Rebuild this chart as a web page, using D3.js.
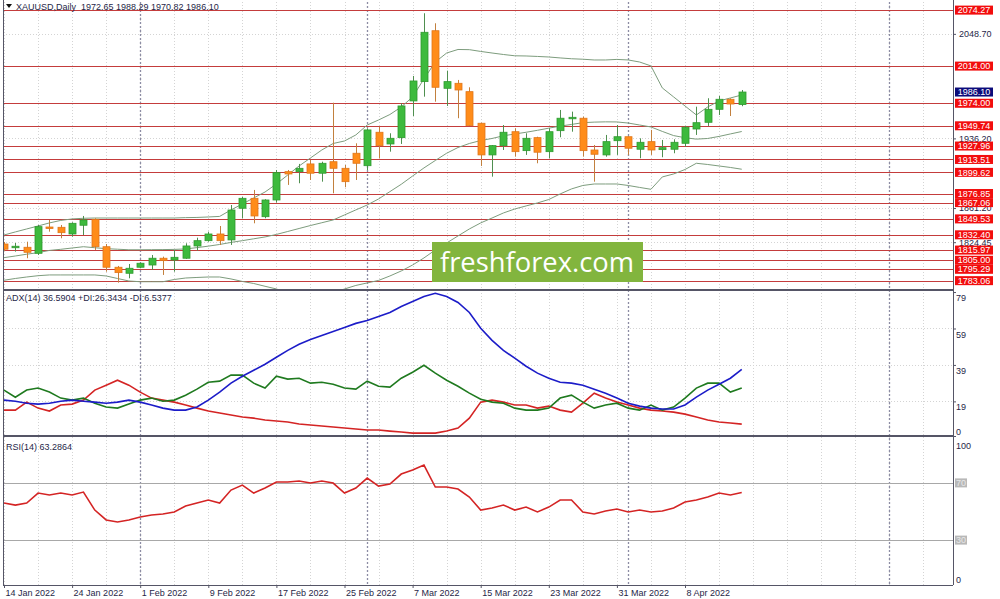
<!DOCTYPE html>
<html><head><meta charset="utf-8">
<script src="https://cdn.jsdelivr.net/npm/d3@7"></script>
<style>body{margin:0;background:#fff}svg{display:block}text{font-family:"Liberation Sans",Arial,sans-serif}</style>
</head><body><svg id="c" width="1000" height="599"></svg>
<script>
// ---------- DATA ----------
const tickIdx = [0,6,12,18,24,30,36,42,48,54,60];
const tickLabels = ["14 Jan 2022","24 Jan 2022","1 Feb 2022","9 Feb 2022","17 Feb 2022","25 Feb 2022","7 Mar 2022","15 Mar 2022","23 Mar 2022","31 Mar 2022","8 Apr 2022"];
const separatorIdx = [12,32,55,78];
const open = [1822.5,1819.3,1819.0,1812.5,1840.8,1840.5,1833.3,1842.7,1849.1,1819.6,1797.5,1791.0,1797.5,1799.9,1807.2,1805.3,1807.2,1820.4,1826.1,1833.3,1826.9,1861.0,1871.7,1851.9,1869.9,1900.4,1900.4,1908.7,1898.7,1911.1,1904.0,1920.2,1906.8,1942.8,1930.2,1937.0,1976.5,1997.3,2052.1,1990.1,1995.5,1986.5,1952.5,1918.4,1928.4,1943.4,1923.0,1937.0,1921.9,1944.5,1957.4,1957.9,1923.7,1918.4,1933.7,1938.0,1924.5,1932.7,1924.1,1924.5,1930.9,1946.3,1953.5,1967.5,1978.3,1972.65];
const high = [1824.7,1823.6,1825.0,1843.0,1848.4,1843.0,1845.9,1852.7,1850.2,1822.5,1798.9,1801.0,1802.4,1810.7,1808.9,1816.1,1823.3,1829.3,1835.8,1841.9,1864.5,1873.5,1880.7,1870.7,1902.2,1902.2,1908.7,1913.0,1911.1,1974.6,1907.6,1930.9,1947.1,1948.8,1941.7,1974.0,2003.4,2070.9,2060.1,2009.1,1999.1,1991.2,1953.1,1929.0,1950.6,1947.1,1941.7,1938.0,1947.1,1966.8,1965.0,1959.6,1929.1,1939.9,1950.6,1938.5,1936.3,1945.3,1934.5,1935.2,1949.6,1970.3,1979.4,1981.9,1979.4,1988.29];
const low = [1815.0,1814.3,1807.2,1810.7,1835.8,1828.7,1830.4,1832.2,1816.1,1792.7,1780.9,1785.6,1796.4,1794.6,1789.2,1792.7,1806.5,1815.3,1825.0,1821.5,1821.5,1850.2,1844.8,1850.2,1867.0,1886.1,1887.9,1891.4,1889.6,1877.1,1883.6,1891.4,1902.2,1914.8,1921.9,1930.2,1960.3,1981.1,1975.7,1971.1,1957.9,1949.6,1906.5,1895.0,1923.7,1916.5,1918.4,1909.4,1914.8,1937.4,1943.4,1916.5,1889.6,1916.5,1918.4,1918.4,1914.8,1918.4,1915.9,1920.2,1927.3,1939.9,1949.6,1961.4,1960.3,1970.82];
const close = [1816.9,1820.1,1813.6,1841.2,1839.4,1834.7,1844.8,1848.4,1819.6,1797.5,1791.7,1796.4,1801.8,1807.2,1804.6,1808.2,1820.4,1826.1,1833.3,1826.1,1859.1,1871.7,1852.7,1869.9,1899.3,1897.9,1904.0,1898.7,1909.4,1904.0,1889.6,1909.4,1945.3,1928.4,1936.3,1971.1,1998.0,2050.4,1991.2,1997.3,1988.3,1949.9,1918.4,1928.4,1942.8,1921.9,1936.3,1921.3,1943.4,1957.9,1958.9,1923.0,1919.1,1932.7,1938.0,1925.6,1932.0,1923.7,1926.2,1932.0,1948.2,1953.1,1967.5,1978.3,1973.2,1986.10];
const bbUpper = [1832.2,1835.5,1838.7,1841.9,1845.2,1847.9,1849.5,1850.2,1850.5,1850.5,1850.5,1850.5,1850.5,1850.5,1850.5,1850.5,1850.9,1851.1,1851.6,1852.2,1859.2,1865.6,1872.1,1878.5,1887.1,1896.8,1906.5,1915.1,1923.7,1930.7,1933.4,1939.9,1950.6,1956.0,1961.9,1970.0,1980.8,2000.2,2018.4,2028.1,2031.9,2031.7,2029.8,2028.1,2026.5,2025.1,2024.9,2024.4,2023.8,2022.8,2021.9,2021.4,2020.6,2020.6,2021.2,2020.6,2018.4,2014.2,1990.5,1980.8,1971.1,1961.4,1970.0,1976.5,1979.7,1982.9];
const bbMiddle = [1807.8,1809.6,1811.5,1813.2,1815.6,1816.8,1818.2,1819.6,1818.5,1817.5,1816.9,1816.3,1816.3,1816.4,1816.5,1816.7,1817.2,1818.6,1820.2,1822.0,1824.2,1826.1,1828.1,1830.1,1832.8,1836.0,1839.2,1842.4,1845.4,1848.4,1853.8,1859.2,1864.5,1871.0,1878.9,1886.8,1895.7,1904.4,1912.4,1920.2,1926.4,1930.7,1933.9,1936.1,1939.0,1940.9,1942.8,1944.9,1947.2,1949.4,1951.2,1953.1,1953.7,1954.0,1953.9,1952.7,1950.6,1948.5,1943.7,1939.2,1936.9,1935.4,1936.1,1938.3,1941.0,1943.6];
const bbLower = [1783.5,1785.4,1787.0,1788.4,1789.2,1789.2,1789.2,1789.2,1789.2,1788.1,1785.4,1782.7,1781.9,1781.9,1781.9,1784.3,1785.9,1786.5,1787.0,1787.0,1784.9,1782.2,1780.0,1777.0,1774.1,1769.8,1766.6,1765.5,1766.6,1769.8,1774.1,1777.9,1780.6,1783.3,1788.1,1793.5,1799.9,1807.5,1816.1,1823.6,1831.2,1838.7,1845.2,1850.5,1855.9,1860.2,1863.5,1866.7,1870.4,1876.4,1881.8,1885.5,1887.1,1887.1,1887.1,1885.5,1883.4,1881.4,1894.7,1897.9,1902.7,1909.4,1908.1,1906.5,1904.9,1903.0];
const levels = [2074.27,2014.00,1974.00,1949.74,1927.96,1913.51,1899.62,1876.85,1867.06,1849.53,1832.40,1815.97,1805.00,1795.29,1783.06];
const priceGrid = [2048.70,1936.20,1861.20,1824.45];
const lastPrice = 1986.10;
const adx = [19.7,19.1,18.0,17.5,18.0,19.1,19.7,19.1,18.6,18.0,18.6,19.7,18.6,17.0,15.3,14.2,14.2,15.9,19.7,24.1,29.0,32.8,36.1,39.4,43.2,47.0,50.3,53.0,55.2,57.4,59.6,61.8,63.4,65.6,67.8,71.1,73.8,76.6,78.3,76.6,73.3,67.8,59.1,52.5,47.0,42.7,38.3,34.5,31.7,29.5,29.0,27.9,25.7,23.5,20.8,18.0,16.4,15.3,14.8,14.8,17.0,21.3,25.2,28.4,31.7,36.6];
const plusDI = [25.2,21.3,25.2,26.3,24.1,20.8,19.7,20.8,18.0,15.9,15.3,17.5,19.7,20.8,19.1,19.7,22.4,25.7,29.5,30.1,33.4,33.4,29.0,26.3,32.8,31.2,31.7,29.0,29.5,28.4,26.3,25.7,30.1,27.3,26.8,31.7,35.0,38.8,34.5,30.6,27.3,23.5,20.2,18.6,18.0,15.3,14.2,14.2,15.3,20.8,22.4,18.6,15.3,17.0,18.0,15.3,14.2,17.0,14.2,15.9,20.8,26.3,29.0,29.0,24.1,26.3];
const minusDI = [14.2,14.2,18.6,15.3,13.7,17.0,17.5,19.7,25.2,27.9,30.6,27.9,24.1,20.8,19.7,18.6,17.0,15.3,13.7,12.6,11.5,10.4,9.8,8.8,8.2,7.7,6.6,6.0,5.5,4.9,4.4,3.8,3.3,3.3,2.7,2.2,1.6,1.6,1.6,2.7,4.4,9.8,18.6,19.7,18.6,17.0,17.0,15.3,16.4,14.2,13.1,18.0,23.5,20.8,18.6,17.0,15.3,14.2,13.7,13.1,12.0,10.4,8.8,7.7,7.1,6.5];
const rsi = [55.9,54.5,55.9,62.9,61.5,62.9,61.5,63.6,51.0,44.1,42.7,44.1,46.2,47.6,48.3,49.7,53.8,55.9,58.0,55.9,65.0,68.5,62.9,66.4,70.6,70.6,71.3,69.9,71.3,69.9,62.9,66.4,73.4,67.8,69.2,76.2,79.0,82.5,67.1,67.1,65.7,60.1,51.0,52.4,54.5,51.0,53.1,49.7,53.1,58.0,58.0,49.7,48.3,50.3,51.7,49.7,51.0,49.7,50.3,52.4,56.6,58.0,60.1,62.9,61.5,63.3];
const adxTicks = [79,59,39,19,0];
const rsiLevels = [70,30];
const rsiTicks = [100,0];

// ---------- LAYOUT ----------
const svg = d3.select("#c");
const L = 3, R = 953;
const mainT = 2, mainB = 290, adxT = 291, adxB = 436, rsiT = 437, rsiB = 585;
const x = d3.scaleLinear().domain([0,65]).range([4, 4+11.35*65]);
const y = d3.scaleLinear().domain([1773, 2083]).range([mainB, mainT]);
const yA = d3.scaleLinear().domain([0, 79.3]).range([adxB, adxT+0.5]);
const yR = d3.scaleLinear().domain([0, 100]).range([583, 440]);
const txtCol = "#1f1f48";

const defs = svg.append("defs");
[["cm",mainT,mainB],["ca",adxT,adxB],["cr",rsiT,rsiB]].forEach(([id,t,b])=>{
  defs.append("clipPath").attr("id",id).append("rect").attr("x",L).attr("y",t).attr("width",R-L).attr("height",b-t);
});

// vertical grid
const gridIdx = d3.range(0, 84, 3);
svg.append("g").selectAll("line").data(gridIdx).join("line")
  .attr("x1",d=>Math.round(x(d))+0.5).attr("x2",d=>Math.round(x(d))+0.5)
  .attr("y1",mainT).attr("y2",rsiB).attr("stroke","#d4d4d4").attr("stroke-dasharray","1,2");
// horizontal grids
svg.append("g").selectAll("line").data(priceGrid).join("line")
  .attr("x1",L).attr("x2",R).attr("y1",d=>Math.round(y(d))+0.5).attr("y2",d=>Math.round(y(d))+0.5)
  .attr("stroke","#d4d4d4").attr("stroke-dasharray","1,2");
svg.append("g").selectAll("line").data([59,39,19]).join("line")
  .attr("x1",L).attr("x2",R).attr("y1",d=>Math.round(yA(d))+0.5).attr("y2",d=>Math.round(yA(d))+0.5)
  .attr("stroke","#d4d4d4").attr("stroke-dasharray","1,2");
// period separators
svg.append("g").selectAll("line").data(separatorIdx).join("line")
  .attr("x1",d=>Math.round(x(d))+0.5).attr("x2",d=>Math.round(x(d))+0.5)
  .attr("y1",mainT).attr("y2",rsiB).attr("stroke","#8c8ca4").attr("stroke-width",1.3).attr("stroke-dasharray","2,2");

// ---------- MAIN PANEL ----------
const gm = svg.append("g").attr("clip-path","url(#cm)");
gm.selectAll("line.lvl").data(levels).join("line").attr("class","lvl")
  .attr("x1",L).attr("x2",R).attr("y1",d=>Math.round(y(d))+0.5).attr("y2",d=>Math.round(y(d))+0.5)
  .attr("stroke","#c43c3c").attr("stroke-width",1);
const lineGen = sc => d3.line().x((d,i)=>x(i)).y(d=>sc(d));
[bbUpper,bbMiddle,bbLower].forEach(s=>{
  gm.append("path").datum(s).attr("d",lineGen(y)).attr("fill","none").attr("stroke","#7d9c7d").attr("stroke-width",1);
});
const idx = d3.range(open.length);
const bull = i => close[i] >= open[i];
gm.selectAll("line.wick").data(idx).join("line").attr("class","wick")
  .attr("x1",i=>Math.round(x(i))+0.5).attr("x2",i=>Math.round(x(i))+0.5)
  .attr("y1",i=>y(high[i])).attr("y2",i=>y(low[i]))
  .attr("stroke",i=>bull(i)?"#4f8f4f":"#c2803e").attr("stroke-width",1);
gm.selectAll("rect.body").data(idx).join("rect").attr("class","body")
  .attr("x",i=>Math.round(x(i))-3).attr("width",7)
  .attr("y",i=>y(Math.max(open[i],close[i])))
  .attr("height",i=>Math.max(1.5, Math.abs(y(open[i])-y(close[i]))))
  .attr("fill",i=>bull(i)?"#3dba3d":"#ff8c1a")
  .attr("stroke",i=>bull(i)?"#2f9a2f":"#e0761a").attr("stroke-width",0.8);

// logo
svg.append("rect").attr("x",432).attr("y",242).attr("width",211).attr("height",40).attr("fill","#82b53e");
svg.append("text").attr("x",440).attr("y",272).attr("fill","#fff").attr("font-size",28)
  .attr("textLength",194).attr("lengthAdjust","spacingAndGlyphs")
  .style("font-family","'Open Sans','Noto Sans',sans-serif").text("freshforex.com");

// ---------- ADX PANEL ----------
const ga = svg.append("g").attr("clip-path","url(#ca)");
[[minusDI,"#d42424"],[plusDI,"#1f7a1f"],[adx,"#1c1cc8"]].forEach(([s,c])=>{
  ga.append("path").datum(s).attr("d",lineGen(yA)).attr("fill","none").attr("stroke",c).attr("stroke-width",1.6);
});

// ---------- RSI PANEL ----------
const gr = svg.append("g").attr("clip-path","url(#cr)");
gr.selectAll("line.lv").data(rsiLevels).join("line").attr("class","lv")
  .attr("x1",L).attr("x2",R).attr("y1",d=>Math.round(yR(d))+0.5).attr("y2",d=>Math.round(yR(d))+0.5)
  .attr("stroke","#a8a8a8");
gr.append("path").datum(rsi).attr("d",lineGen(yR)).attr("fill","none").attr("stroke","#d42424").attr("stroke-width",1.6);

// ---------- FRAMES ----------
const frame = svg.append("g").attr("stroke","#555566").attr("shape-rendering","crispEdges");
frame.append("line").attr("x1",L).attr("x2",L).attr("y1",0).attr("y2",rsiB);
frame.append("line").attr("x1",R).attr("x2",R).attr("y1",0).attr("y2",rsiB);
frame.append("line").attr("x1",L).attr("x2",R).attr("y1",mainB).attr("y2",mainB).attr("stroke-width",2);
frame.append("line").attr("x1",L).attr("x2",R).attr("y1",adxB).attr("y2",adxB).attr("stroke-width",2);
frame.append("line").attr("x1",L).attr("x2",R).attr("y1",rsiB).attr("y2",rsiB);

// ---------- AXES ----------
const pAxis = svg.append("g").attr("transform",`translate(${R},0)`)
  .call(d3.axisRight(y).tickValues(priceGrid).tickSize(3).tickFormat(d3.format(".2f")));
pAxis.select(".domain").remove();
pAxis.selectAll("line").attr("stroke","#555566");
pAxis.selectAll("text").attr("fill",txtCol).attr("font-size",9).attr("x",6).style("font-family","'Liberation Sans',Arial");

// level labels
const lab = svg.append("g");
levels.forEach(v=>{
  lab.append("rect").attr("x",R+2).attr("y",y(v)-4.5).attr("width",38).attr("height",9).attr("fill","#f20d0d");
  lab.append("text").attr("x",R+21).attr("y",y(v)).attr("dy","0.35em").attr("text-anchor","middle")
    .attr("fill","#fff").attr("font-size",9).text(v.toFixed(2));
});
lab.append("rect").attr("x",R+2).attr("y",y(lastPrice)-4.5).attr("width",38).attr("height",9).attr("fill","#0b0b7a");
lab.append("text").attr("x",R+21).attr("y",y(lastPrice)).attr("dy","0.35em").attr("text-anchor","middle")
  .attr("fill","#fff").attr("font-size",9).text(lastPrice.toFixed(2));

// ADX axis
const aAxis = svg.append("g").attr("transform",`translate(${R},0)`)
  .call(d3.axisRight(yA).tickValues(adxTicks).tickSize(3).tickFormat(d3.format("d")));
aAxis.select(".domain").remove();
aAxis.selectAll("line").attr("stroke","#555566");
aAxis.selectAll("text").attr("fill",txtCol).attr("font-size",9).attr("x",3)
  .attr("dy",d=>d===0?"-0.2em":"0.95em");
// RSI axis
const rAxis = svg.append("g").attr("transform",`translate(${R},0)`)
  .call(d3.axisRight(yR).tickValues(rsiTicks).tickSize(0).tickFormat(d3.format("d")));
rAxis.select(".domain").remove();
rAxis.selectAll("text").attr("fill",txtCol).attr("font-size",9).attr("x",3)
  .attr("dy",d=>d===0?"-0.1em":"0.9em");
rsiLevels.forEach(v=>{
  svg.append("rect").attr("x",R+2).attr("y",yR(v)-4.5).attr("width",12).attr("height",9).attr("fill","#b8b8b8");
  svg.append("text").attr("x",R+8).attr("y",yR(v)).attr("dy","0.35em").attr("text-anchor","middle")
    .attr("fill","#e8e8e8").attr("font-size",9).text(v);
});

// X axis
const xAxis = svg.append("g").attr("transform",`translate(0,${rsiB})`)
  .call(d3.axisBottom(x).tickValues(tickIdx).tickSize(3).tickFormat((d,i)=>tickLabels[i]));
xAxis.select(".domain").remove();
xAxis.selectAll("line").attr("stroke","#555566");
xAxis.selectAll("text").attr("fill",txtCol).attr("font-size",9).attr("text-anchor","start")
  .attr("x",1).attr("y",3).attr("dy","0.9em");

// headers
svg.append("path").attr("d","M6,4 L12,4 L9,8 Z").attr("fill","#111");
svg.append("text").attr("x",16).attr("y",10).attr("font-size",9).attr("fill",txtCol)
  .text("XAUUSD,Daily  1972.65 1988.29 1970.82 1986.10").style("white-space","pre");
svg.append("text").attr("x",6).attr("y",301).attr("font-size",9).attr("fill",txtCol)
  .text("ADX(14) 36.5904 +DI:26.3434 -DI:6.5377");
svg.append("text").attr("x",6).attr("y",450).attr("font-size",9).attr("fill",txtCol)
  .text("RSI(14) 63.2864");
</script></body></html>
